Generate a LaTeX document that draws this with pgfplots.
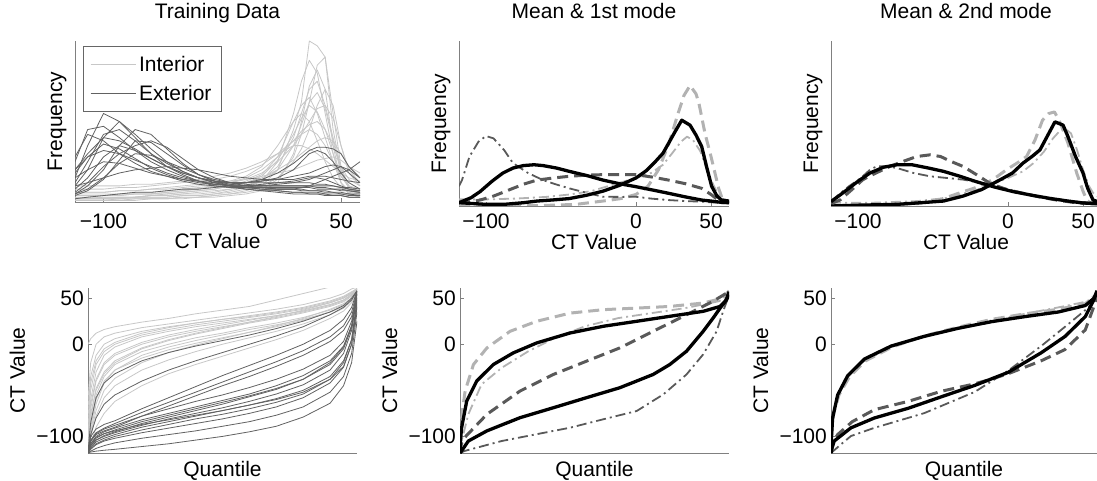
\documentclass[border=0pt]{standalone}
\usepackage{fontspec}
\setmainfont{Liberation Sans}
\usepackage{pgfplots}
\pgfplotsset{compat=1.18}
\newcommand\fs{\fontsize{21}{25}\selectfont}
\tikzset{
  intc/.style={color=black!22, line width=0.8pt},
  extc/.style={color=black!62, line width=0.8pt},
  meanc/.style={color=black, line width=3.3pt},
  idash/.style={color=black!30, line width=3pt, dash pattern=on 11pt off 6pt},
  idd/.style={color=black!30, line width=1.8pt, dash pattern=on 10pt off 4pt on 2pt off 4pt},
  edash/.style={color=black!65, line width=3pt, dash pattern=on 11pt off 6pt},
  edd/.style={color=black!65, line width=1.8pt, dash pattern=on 10pt off 4pt on 2pt off 4pt},
}
\pgfplotsset{
  base/.style={scale only axis, font=\fs, axis x line*=bottom, axis y line*=left,
    axis line style={black!50, line width=0.8pt}, tick style={black!50, line width=0.7pt},
    tick align=inside, major tick length=4pt,
    title style={at={([yshift=16pt]axis description cs:0.5,1)}, anchor=base},
    every axis plot/.append style={line join=round}},
  toprow/.style={base, xmin=-118, xmax=62, ymin=0, ymax=1, ytick=\empty,
    xtick={-100,0,50}, xticklabels={−100,0,50}, xlabel={CT Value}, ylabel={Frequency},
    ylabel style={at={([xshift=-13pt]axis description cs:0,0.5)}, anchor=base},
    xticklabel style={anchor=base, inner sep=0pt, yshift=-22pt},
    xlabel style={at={([yshift=-43pt]axis description cs:0.5,0)}, anchor=base, inner sep=0pt},
    height=165pt, width=270pt},
  botrow/.style={base, xmin=0, xmax=1, ymin=-118, ymax=61, xtick=\empty,
    ytick={-100,0,50}, yticklabels={−100,0,50}, xlabel={Quantile}, ylabel={CT Value},
    yticklabel style={anchor=east, inner sep=0pt, xshift=-4pt},
    ylabel style={at={([xshift=-63pt]axis description cs:0,0.5)}, anchor=base, inner sep=0pt},
    xlabel style={at={([yshift=-23pt]axis description cs:0.5,0)}, anchor=base, inner sep=0pt},
    height=165pt, width=269pt},
}
\begin{document}
\begin{tikzpicture}
\useasboundingbox (0,0) rectangle (1097pt,480pt);
% ---------------- Panel 1: Training data histograms
\begin{axis}[toprow, at={(75pt,278pt)}, anchor=south west, width=285pt, height=161pt,
  title={Training Data},
  xticklabel style={yshift=-4pt}, xlabel style={at={([yshift=-46pt]axis description cs:0.5,0)}},
  legend cell align=left,
  legend image code/.code={\draw[#1] (0pt,0pt) -- (45pt,0pt);},
  legend style={at={([xshift=8pt,yshift=-5pt]axis description cs:0,1)}, anchor=north west,
    draw=black!60, line width=0.6pt, inner xsep=7pt, inner ysep=3pt, row sep=0pt,
    nodes={inner xsep=3pt, inner ysep=6.5pt}, font=\fs}]
\addplot[intc, forget plot] coordinates {(-118,.01)(-110,.01)(-100,.01)(-90,.01)(-80,.02)(-70,.02)(-60,.02)(-50,.03)(-40,.03)(-30,.04)(-20,.05)(-10,.07)(0,.10)(10,.20)(20,.45)(25,.62)(30,1)(35,.97)(40,.90)(45,.45)(50,.20)(55,.08)(62,.05)};
\addplot[intc, forget plot] coordinates {(-118,.02)(-110,.02)(-100,.02)(-90,.02)(-80,.03)(-70,.03)(-60,.03)(-50,.04)(-40,.04)(-30,.05)(-20,.07)(-10,.09)(0,.13)(10,.25)(20,.55)(25,.75)(30,.88)(35,.80)(40,.55)(45,.30)(50,.12)(55,.05)(62,.03)};
\addplot[intc, forget plot] coordinates {(-118,.03)(-110,.03)(-100,.03)(-90,.03)(-80,.03)(-70,.04)(-60,.04)(-50,.05)(-40,.06)(-30,.07)(-20,.08)(-10,.10)(0,.14)(10,.22)(20,.40)(25,.55)(30,.70)(35,.75)(40,.60)(45,.40)(50,.20)(55,.10)(62,.06)};
\addplot[intc, forget plot] coordinates {(-118,.04)(-110,.04)(-100,.04)(-90,.05)(-80,.05)(-70,.05)(-60,.06)(-50,.07)(-40,.08)(-30,.09)(-20,.10)(-10,.13)(0,.17)(10,.28)(20,.50)(25,.60)(30,.65)(35,.55)(40,.40)(45,.25)(50,.12)(55,.07)(62,.05)};
\addplot[intc, forget plot] coordinates {(-118,.05)(-110,.05)(-100,.05)(-90,.05)(-80,.06)(-70,.06)(-60,.07)(-50,.08)(-40,.09)(-30,.10)(-20,.12)(-10,.14)(0,.18)(10,.25)(20,.35)(25,.42)(30,.50)(35,.58)(40,.60)(45,.52)(50,.35)(55,.20)(62,.12)};
\addplot[intc, forget plot] coordinates {(-118,.06)(-110,.06)(-100,.06)(-90,.07)(-80,.07)(-70,.08)(-60,.08)(-50,.09)(-40,.10)(-30,.11)(-20,.13)(-10,.16)(0,.22)(10,.35)(20,.50)(25,.55)(30,.50)(35,.38)(40,.25)(45,.15)(50,.09)(55,.06)(62,.05)};
\addplot[intc, forget plot] coordinates {(-118,.03)(-110,.03)(-100,.04)(-90,.04)(-80,.05)(-70,.05)(-60,.06)(-50,.07)(-40,.08)(-30,.10)(-20,.12)(-10,.15)(0,.20)(10,.28)(20,.38)(25,.44)(30,.48)(35,.50)(40,.45)(45,.35)(50,.22)(55,.14)(62,.10)};
\addplot[intc, forget plot] coordinates {(-118,.08)(-110,.08)(-100,.08)(-90,.09)(-80,.09)(-70,.10)(-60,.11)(-50,.12)(-40,.13)(-30,.14)(-20,.16)(-10,.19)(0,.23)(10,.30)(20,.38)(25,.42)(30,.45)(35,.42)(40,.35)(45,.25)(50,.16)(55,.10)(62,.08)};
\addplot[intc, forget plot] coordinates {(-118,.02)(-110,.02)(-100,.02)(-90,.03)(-80,.03)(-70,.04)(-60,.05)(-50,.06)(-40,.07)(-30,.08)(-20,.10)(-10,.12)(0,.15)(10,.20)(20,.26)(25,.30)(30,.34)(35,.38)(40,.40)(45,.38)(50,.30)(55,.22)(62,.15)};
\addplot[intc, forget plot] coordinates {(-118,.01)(-110,.01)(-100,.01)(-90,.01)(-80,.01)(-70,.02)(-60,.02)(-50,.02)(-40,.03)(-30,.03)(-20,.04)(-10,.05)(0,.07)(10,.12)(20,.30)(25,.50)(30,.72)(35,.82)(40,.70)(45,.35)(50,.12)(55,.05)(62,.03)};
\addplot[intc, forget plot] coordinates {(-118,.10)(-110,.10)(-100,.10)(-90,.10)(-80,.11)(-70,.11)(-60,.12)(-50,.13)(-40,.14)(-30,.16)(-20,.18)(-10,.21)(0,.25)(10,.30)(20,.35)(25,.35)(30,.33)(35,.30)(40,.26)(45,.22)(50,.18)(55,.15)(62,.13)};
\addplot[intc, forget plot] coordinates {(-118,.02)(-110,.02)(-100,.02)(-90,.02)(-80,.03)(-70,.03)(-60,.03)(-50,.04)(-40,.04)(-30,.05)(-20,.06)(-10,.08)(0,.10)(10,.15)(20,.25)(25,.33)(30,.45)(35,.60)(40,.70)(45,.60)(50,.35)(55,.18)(62,.10)};
\addplot[intc, forget plot] coordinates {(-118,.04)(-110,.04)(-100,.04)(-90,.04)(-80,.05)(-70,.05)(-60,.05)(-50,.06)(-40,.07)(-30,.08)(-20,.10)(-10,.12)(0,.16)(10,.26)(20,.42)(25,.52)(30,.60)(35,.56)(40,.45)(45,.30)(50,.16)(55,.09)(62,.06)};
\addplot[intc, forget plot] coordinates {(-118,.06)(-110,.06)(-100,.06)(-90,.07)(-80,.07)(-70,.08)(-60,.09)(-50,.10)(-40,.11)(-30,.12)(-20,.13)(-10,.14)(0,.16)(10,.18)(20,.20)(25,.22)(30,.24)(35,.26)(40,.27)(45,.28)(50,.26)(55,.22)(62,.18)};
\addplot[intc, forget plot] coordinates {(-118,.02)(-110,.02)(-100,.03)(-90,.03)(-80,.03)(-70,.04)(-60,.04)(-50,.05)(-40,.05)(-30,.06)(-20,.08)(-10,.10)(0,.13)(10,.20)(20,.35)(25,.48)(30,.62)(35,.68)(40,.58)(45,.38)(50,.18)(55,.09)(62,.05)};
\addplot[intc, forget plot] coordinates {(-118,.01)(-110,.01)(-100,.01)(-90,.02)(-80,.02)(-70,.02)(-60,.02)(-50,.03)(-40,.03)(-30,.04)(-20,.05)(-10,.06)(0,.08)(10,.14)(20,.28)(25,.42)(30,.62)(35,.85)(40,.90)(45,.55)(50,.22)(55,.09)(62,.05)};
\addplot[extc, forget plot] coordinates {(-118,.15)(-110,.35)(-100,.55)(-90,.50)(-80,.40)(-70,.30)(-60,.22)(-50,.17)(-40,.13)(-30,.10)(-20,.09)(-10,.08)(0,.07)(10,.07)(20,.06)(25,.06)(30,.06)(35,.06)(40,.05)(45,.05)(50,.05)(55,.04)(62,.04)};
\addplot[extc, forget plot] coordinates {(-118,.10)(-110,.20)(-100,.40)(-90,.50)(-80,.42)(-70,.33)(-60,.25)(-50,.19)(-40,.15)(-30,.12)(-20,.10)(-10,.09)(0,.09)(10,.08)(20,.08)(25,.08)(30,.07)(35,.07)(40,.07)(45,.06)(50,.06)(55,.05)(62,.05)};
\addplot[extc, forget plot] coordinates {(-118,.05)(-110,.10)(-100,.20)(-90,.35)(-80,.45)(-70,.42)(-60,.33)(-50,.24)(-40,.17)(-30,.13)(-20,.11)(-10,.10)(0,.10)(10,.10)(20,.10)(25,.10)(30,.10)(35,.09)(40,.09)(45,.08)(50,.08)(55,.07)(62,.06)};
\addplot[extc, forget plot] coordinates {(-118,.28)(-110,.42)(-100,.38)(-90,.30)(-80,.24)(-70,.19)(-60,.16)(-50,.13)(-40,.11)(-30,.10)(-20,.09)(-10,.09)(0,.09)(10,.09)(20,.09)(25,.09)(30,.09)(35,.08)(40,.08)(45,.08)(50,.07)(55,.07)(62,.06)};
\addplot[extc, forget plot] coordinates {(-118,.20)(-110,.30)(-100,.40)(-90,.38)(-80,.33)(-70,.27)(-60,.22)(-50,.18)(-40,.15)(-30,.13)(-20,.12)(-10,.12)(0,.12)(10,.12)(20,.13)(25,.14)(30,.15)(35,.15)(40,.14)(45,.12)(50,.10)(55,.08)(62,.07)};
\addplot[extc, forget plot] coordinates {(-118,.08)(-110,.15)(-100,.28)(-90,.35)(-80,.32)(-70,.27)(-60,.22)(-50,.18)(-40,.15)(-30,.13)(-20,.12)(-10,.12)(0,.13)(10,.15)(20,.20)(25,.25)(30,.30)(35,.32)(40,.30)(45,.25)(50,.18)(55,.12)(62,.08)};
\addplot[extc, forget plot] coordinates {(-118,.05)(-110,.08)(-100,.15)(-90,.24)(-80,.30)(-70,.29)(-60,.25)(-50,.21)(-40,.17)(-30,.14)(-20,.12)(-10,.11)(0,.10)(10,.10)(20,.10)(25,.10)(30,.10)(35,.10)(40,.10)(45,.10)(50,.09)(55,.09)(62,.08)};
\addplot[extc, forget plot] coordinates {(-118,.15)(-110,.20)(-100,.25)(-90,.24)(-80,.21)(-70,.18)(-60,.16)(-50,.14)(-40,.13)(-30,.12)(-20,.12)(-10,.12)(0,.13)(10,.14)(20,.16)(25,.17)(30,.18)(35,.20)(40,.22)(45,.23)(50,.22)(55,.18)(62,.12)};
\addplot[extc, forget plot] coordinates {(-118,.25)(-110,.45)(-100,.47)(-90,.40)(-80,.32)(-70,.25)(-60,.20)(-50,.16)(-40,.13)(-30,.11)(-20,.10)(-10,.09)(0,.08)(10,.07)(20,.06)(25,.06)(30,.05)(35,.05)(40,.05)(45,.04)(50,.04)(55,.03)(62,.03)};
\addplot[extc, forget plot] coordinates {(-118,.04)(-110,.07)(-100,.14)(-90,.26)(-80,.38)(-70,.37)(-60,.30)(-50,.23)(-40,.17)(-30,.13)(-20,.10)(-10,.08)(0,.07)(10,.06)(20,.05)(25,.05)(30,.05)(35,.05)(40,.04)(45,.04)(50,.04)(55,.03)(62,.03)};
\addplot[extc, forget plot] coordinates {(-118,.10)(-110,.12)(-100,.15)(-90,.18)(-80,.20)(-70,.21)(-60,.22)(-50,.21)(-40,.20)(-30,.18)(-20,.16)(-10,.15)(0,.14)(10,.14)(20,.14)(25,.15)(30,.16)(35,.16)(40,.16)(45,.15)(50,.14)(55,.13)(62,.12)};
\addplot[extc, forget plot] coordinates {(-118,.20)(-110,.28)(-100,.32)(-90,.30)(-80,.26)(-70,.22)(-60,.18)(-50,.15)(-40,.13)(-30,.11)(-20,.10)(-10,.10)(0,.10)(10,.11)(20,.12)(25,.13)(30,.14)(35,.16)(40,.18)(45,.20)(50,.22)(55,.20)(62,.15)};
\addplot[extc, forget plot] coordinates {(-118,.02)(-110,.03)(-100,.04)(-90,.05)(-80,.06)(-70,.06)(-60,.07)(-50,.08)(-40,.08)(-30,.09)(-20,.10)(-10,.10)(0,.11)(10,.12)(20,.12)(25,.12)(30,.12)(35,.11)(40,.11)(45,.10)(50,.09)(55,.08)(62,.07)};
\addplot[extc, forget plot] coordinates {(-118,.18)(-110,.28)(-100,.36)(-90,.33)(-80,.27)(-70,.21)(-60,.17)(-50,.14)(-40,.12)(-30,.11)(-20,.11)(-10,.12)(0,.14)(10,.18)(20,.24)(25,.28)(30,.32)(35,.34)(40,.34)(45,.33)(50,.30)(55,.22)(62,.15)};
\addplot[extc, forget plot] coordinates {(-118,.12)(-110,.25)(-100,.42)(-90,.45)(-80,.38)(-70,.30)(-60,.24)(-50,.19)(-40,.15)(-30,.12)(-20,.10)(-10,.09)(0,.08)(10,.08)(20,.08)(25,.09)(30,.10)(35,.12)(40,.14)(45,.16)(50,.18)(55,.20)(62,.25)};
\addplot[extc, forget plot] coordinates {(-118,.06)(-110,.12)(-100,.22)(-90,.30)(-80,.35)(-70,.38)(-60,.34)(-50,.27)(-40,.20)(-30,.15)(-20,.12)(-10,.10)(0,.09)(10,.08)(20,.08)(25,.07)(30,.07)(35,.07)(40,.06)(45,.06)(50,.05)(55,.05)(62,.04)};
\addlegendimage{intc}
\addlegendentry{Interior}
\addlegendimage{extc}
\addlegendentry{Exterior}
\end{axis}
% ---------------- Panel 2: Mean & 1st mode (frequency)
\begin{axis}[toprow, at={(459pt,274pt)}, anchor=south west, title={Mean \& 1st mode}]
\addplot[idash] coordinates {(-118,0)(-80,0)(-55,0.005)(-40,0.01)(-22,0.03)(-10,0.045)(0,0.07)(8,0.12)(15,0.22)(22,0.38)(28,0.56)(32,0.67)(36,0.73)(40,0.68)(42,0.62)(46,0.44)(50,0.3)(55,0.11)(58,0.03)(62,0.02)};
\addplot[idd] coordinates {(-118,0.04)(-100,0.04)(-80,0.045)(-60,0.055)(-44,0.07)(-30,0.09)(-15,0.13)(0,0.17)(10,0.2)(18,0.25)(25,0.33)(30,0.39)(34,0.42)(38,0.4)(43,0.33)(48,0.2)(52,0.12)(56,0.05)(62,0.03)};
\addplot[edd] coordinates {(-118,0.12)(-116,0.157)(-111,0.3)(-105,0.39)(-100,0.424)(-95,0.41)(-88,0.34)(-82,0.26)(-72,0.2)(-62,0.157)(-53,0.13)(-44.5,0.107)(-33,0.08)(-22,0.056)(-10,0.055)(0,0.056)(10,0.045)(21.7,0.036)(33,0.03)(43.8,0.026)(55,0.02)(62,0.02)};
\addplot[edash] coordinates {(-118,0.02)(-110,0.025)(-104,0.036)(-95,0.06)(-88,0.085)(-82,0.107)(-74,0.135)(-66,0.157)(-55,0.17)(-44.5,0.18)(-33,0.187)(-22,0.19)(-11,0.19)(0,0.19)(11,0.175)(21.7,0.157)(33,0.135)(43.8,0.107)(50,0.07)(54.8,0.036)(58,0.02)(62,0.02)};
\addplot[meanc] coordinates {(-118,0.02)(-110,0.05)(-104,0.087)(-96,0.15)(-88.7,0.2)(-82,0.23)(-75,0.245)(-68,0.25)(-62,0.245)(-53,0.23)(-44.5,0.21)(-33,0.185)(-22,0.157)(-11,0.135)(0,0.117)(11,0.097)(21.7,0.077)(33,0.055)(43.8,0.036)(50,0.03)(57,0.022)(62,0.02)};
\addplot[meanc] coordinates {(-118,0.02)(-100,0.01)(-88,0.01)(-75,0.02)(-66,0.03)(-55,0.037)(-44.5,0.045)(-33,0.065)(-22,0.09)(-11,0.125)(0,0.17)(7,0.215)(13,0.27)(18,0.32)(21.7,0.38)(26,0.45)(30.5,0.52)(36,0.49)(40,0.43)(43.8,0.36)(47,0.24)(50.4,0.12)(54,0.06)(57,0.036)(62,0.03)};
\end{axis}
% ---------------- Panel 3: Mean & 2nd mode (frequency)
\begin{axis}[toprow, at={(831pt,274pt)}, anchor=south west, title={Mean \& 2nd mode}]
\addplot[idash] coordinates {(-118,0)(-90,0.005)(-60,0.015)(-45,0.04)(-32,0.08)(-22,0.11)(-14,0.14)(-7,0.18)(-1,0.22)(6,0.26)(12.4,0.3)(18,0.4)(23,0.52)(27,0.56)(31,0.57)(35,0.5)(40,0.38)(45.8,0.2)(50,0.09)(52.5,0.036)(56,0.01)(62,0.01)};
\addplot[idd] coordinates {(-118,0.02)(-90,0.02)(-60,0.03)(-40,0.05)(-20,0.1)(0,0.17)(10,0.21)(17,0.26)(24,0.33)(30,0.41)(34,0.45)(38,0.47)(42,0.44)(46,0.34)(50,0.22)(54,0.12)(56.7,0.08)(62,0.04)};
\addplot[edash] coordinates {(-118,0.015)(-112,0.036)(-104,0.1)(-96.7,0.16)(-88,0.2)(-78.7,0.24)(-70,0.27)(-60.9,0.3)(-52,0.31)(-45,0.3)(-38,0.27)(-30,0.24)(-21,0.19)(-12,0.137)(-1,0.1)(10,0.077)(21,0.055)(32.4,0.036)(45,0.02)(55,0.015)(62,0.01)};
\addplot[edd] coordinates {(-118,0.03)(-114,0.06)(-106,0.12)(-98,0.17)(-92,0.22)(-87.6,0.24)(-80,0.24)(-74,0.23)(-63,0.2)(-52,0.18)(-41,0.17)(-30,0.16)(-18,0.14)(-7.5,0.12)(3,0.095)(14.7,0.067)(25,0.05)(36.7,0.036)(48,0.025)(62,0.02)};
\addplot[meanc] coordinates {(-118,0.026)(-107.5,0.097)(-100,0.15)(-92,0.2)(-83,0.235)(-74,0.25)(-64,0.25)(-53,0.23)(-43,0.21)(-32,0.18)(-21,0.147)(-9,0.115)(3.5,0.087)(16,0.065)(28,0.046)(40,0.03)(50,0.018)(62,0.015)};
\addplot[meanc] coordinates {(-118,0.0)(-100,0.005)(-74,0.01)(-58,0.02)(-43,0.03)(-30,0.06)(-17.5,0.1)(-5,0.16)(3,0.2)(10,0.26)(16,0.3)(21.3,0.34)(26,0.42)(31.3,0.51)(36.7,0.49)(40,0.42)(45,0.3)(50,0.2)(53,0.11)(56.7,0.036)(62,0.02)};
\end{axis}
% ---------------- Panel 4: Training data quantiles
\begin{axis}[botrow, at={(88pt,27pt)}, anchor=south west]
\addplot[intc] coordinates {(0,0)(.01,6)(.03,12)(.06,16)(.1,19)(.2,24)(.3,28)(.4,33)(.5,37)(.6,41)(.7,48)(.8,55)(.9,62)(.95,62)(.98,62)(1,62)};
\addplot[intc] coordinates {(0,-100)(.01,-60)(.03,-30)(.06,-12)(.1,-3)(.2,8)(.3,14)(.4,19)(.5,23)(.6,27)(.7,31)(.8,36)(.9,43)(.95,48)(.98,54)(1,60)};
\addplot[intc] coordinates {(0,-117)(.01,-95)(.03,-65)(.06,-42)(.1,-28)(.2,-12)(.3,-3)(.4,4)(.5,10)(.6,16)(.7,21)(.8,27)(.9,35)(.95,41)(.98,48)(1,57)};
\addplot[intc] coordinates {(0,-90)(.01,-50)(.03,-22)(.06,-8)(.1,0)(.2,10)(.3,16)(.4,21)(.5,25)(.6,29)(.7,33)(.8,38)(.9,45)(.95,50)(.98,55)(1,60)};
\addplot[intc] coordinates {(0,-110)(.01,-85)(.03,-55)(.06,-35)(.1,-22)(.2,-8)(.3,0)(.4,7)(.5,12)(.6,18)(.7,23)(.8,29)(.9,37)(.95,43)(.98,50)(1,58)};
\addplot[intc] coordinates {(0,-70)(.01,-35)(.03,-12)(.06,0)(.1,6)(.2,14)(.3,19)(.4,23)(.5,27)(.6,30)(.7,34)(.8,39)(.9,46)(.95,51)(.98,56)(1,60)};
\addplot[intc] coordinates {(0,-117)(.01,-100)(.03,-78)(.06,-58)(.1,-45)(.2,-28)(.3,-17)(.4,-8)(.5,0)(.6,7)(.7,14)(.8,22)(.9,32)(.95,39)(.98,47)(1,56)};
\addplot[intc] coordinates {(0,-105)(.01,-70)(.03,-40)(.06,-22)(.1,-12)(.2,0)(.3,8)(.4,14)(.5,19)(.6,24)(.7,29)(.8,35)(.9,42)(.95,47)(.98,53)(1,60)};
\addplot[intc] coordinates {(0,-117)(.01,-90)(.03,-60)(.06,-40)(.1,-28)(.2,-15)(.3,-6)(.4,1)(.5,7)(.6,13)(.7,19)(.8,26)(.9,35)(.95,41)(.98,48)(1,58)};
\addplot[intc] coordinates {(0,-80)(.01,-42)(.03,-18)(.06,-5)(.1,2)(.2,12)(.3,18)(.4,23)(.5,27)(.6,31)(.7,35)(.8,40)(.9,47)(.95,52)(.98,57)(1,60)};
\addplot[intc] coordinates {(0,-117)(.01,-108)(.03,-90)(.06,-75)(.1,-62)(.2,-45)(.3,-32)(.4,-22)(.5,-13)(.6,-4)(.7,5)(.8,15)(.9,28)(.95,36)(.98,45)(1,55)};
\addplot[intc] coordinates {(0,-95)(.01,-65)(.03,-38)(.06,-20)(.1,-10)(.2,2)(.3,10)(.4,16)(.5,21)(.6,26)(.7,31)(.8,36)(.9,43)(.95,48)(.98,54)(1,60)};
\addplot[intc] coordinates {(0,-117)(.01,-98)(.03,-72)(.06,-50)(.1,-37)(.2,-20)(.3,-9)(.4,-1)(.5,6)(.6,13)(.7,20)(.8,28)(.9,38)(.95,44)(.98,50)(1,58)};
\addplot[intc] coordinates {(0,-100)(.01,-75)(.03,-50)(.06,-32)(.1,-20)(.2,-5)(.3,4)(.4,11)(.5,17)(.6,23)(.7,28)(.8,34)(.9,41)(.95,46)(.98,52)(1,59)};
\addplot[intc] coordinates {(0,-60)(.01,-20)(.03,0)(.06,8)(.1,12)(.2,18)(.3,22)(.4,26)(.5,30)(.6,34)(.7,38)(.8,43)(.9,50)(.95,55)(.98,60)(1,62)};
\addplot[intc] coordinates {(0,-117)(.01,-80)(.03,-48)(.06,-30)(.1,-18)(.2,-4)(.3,5)(.4,12)(.5,18)(.6,24)(.7,30)(.8,37)(.9,45)(.95,50)(.98,56)(1,61)};
\addplot[extc] coordinates {(0,-118)(.01,-117)(.03,-116)(.06,-115)(.1,-114)(.2,-111)(.3,-108)(.4,-104)(.5,-100)(.6,-95)(.7,-89)(.8,-79)(.9,-64)(.95,-45)(.98,-20)(1,25)};
\addplot[extc] coordinates {(0,-117)(.01,-113)(.03,-108)(.06,-104)(.1,-100)(.2,-93)(.3,-87)(.4,-81)(.5,-76)(.6,-70)(.7,-63)(.8,-54)(.9,-38)(.95,-20)(.98,5)(1,45)};
\addplot[extc] coordinates {(0,-117)(.01,-110)(.03,-104)(.06,-100)(.1,-96)(.2,-88)(.3,-81)(.4,-75)(.5,-69)(.6,-62)(.7,-54)(.8,-44)(.9,-28)(.95,-10)(.98,15)(1,50)};
\addplot[extc] coordinates {(0,-117)(.01,-108)(.03,-100)(.06,-95)(.1,-91)(.2,-82)(.3,-75)(.4,-68)(.5,-61)(.6,-54)(.7,-45)(.8,-34)(.9,-18)(.95,-2)(.98,20)(1,55)};
\addplot[extc] coordinates {(0,-118)(.01,-114)(.03,-109)(.06,-105)(.1,-102)(.2,-96)(.3,-91)(.4,-86)(.5,-81)(.6,-75)(.7,-68)(.8,-58)(.9,-42)(.95,-25)(.98,0)(1,42)};
\addplot[extc] coordinates {(0,-117)(.01,-105)(.03,-97)(.06,-92)(.1,-88)(.2,-78)(.3,-70)(.4,-62)(.5,-55)(.6,-47)(.7,-38)(.8,-27)(.9,-12)(.95,3)(.98,25)(1,58)};
\addplot[extc] coordinates {(0,-117)(.01,-110)(.03,-102)(.06,-97)(.1,-93)(.2,-84)(.3,-77)(.4,-70)(.5,-63)(.6,-56)(.7,-48)(.8,-38)(.9,-22)(.95,-5)(.98,18)(1,52)};
\addplot[extc] coordinates {(0,-117)(.01,-105)(.03,-98)(.06,-94)(.1,-90)(.2,-78)(.3,-67)(.4,-56)(.5,-45)(.6,-35)(.7,-24)(.8,-12)(.9,3)(.95,15)(.98,30)(1,55)};
\addplot[extc] coordinates {(0,-117)(.01,-100)(.03,-92)(.06,-87)(.1,-83)(.2,-70)(.3,-58)(.4,-46)(.5,-34)(.6,-23)(.7,-12)(.8,0)(.9,15)(.95,27)(.98,40)(1,58)};
\addplot[extc] coordinates {(0,-117)(.01,-110)(.03,-104)(.06,-99)(.1,-95)(.2,-86)(.3,-79)(.4,-72)(.5,-65)(.6,-57)(.7,-49)(.8,-38)(.9,-20)(.95,-3)(.98,20)(1,55)};
\addplot[extc] coordinates {(0,-117)(.01,-85)(.03,-58)(.06,-42)(.1,-32)(.2,-18)(.3,-9)(.4,-2)(.5,4)(.6,10)(.7,17)(.8,25)(.9,35)(.95,42)(.98,50)(1,58)};
\addplot[extc] coordinates {(0,-117)(.01,-98)(.03,-80)(.06,-65)(.1,-55)(.2,-40)(.3,-28)(.4,-18)(.5,-9)(.6,0)(.7,9)(.8,19)(.9,32)(.95,40)(.98,48)(1,58)};
\addplot[extc] coordinates {(0,-118)(.01,-116)(.03,-113)(.06,-110)(.1,-107)(.2,-102)(.3,-98)(.4,-94)(.5,-89)(.6,-84)(.7,-77)(.8,-68)(.9,-52)(.95,-35)(.98,-10)(1,35)};
\addplot[extc] coordinates {(0,-117)(.01,-104)(.03,-96)(.06,-91)(.1,-86)(.2,-74)(.3,-63)(.4,-52)(.5,-41)(.6,-30)(.7,-19)(.8,-7)(.9,8)(.95,20)(.98,35)(1,57)};
\addplot[extc] coordinates {(0,-118)(.01,-112)(.03,-106)(.06,-102)(.1,-98)(.2,-90)(.3,-84)(.4,-78)(.5,-72)(.6,-66)(.7,-59)(.8,-50)(.9,-35)(.95,-18)(.98,5)(1,48)};
\addplot[extc] coordinates {(0,-117)(.01,-108)(.03,-101)(.06,-97)(.1,-94)(.2,-87)(.3,-82)(.4,-77)(.5,-72)(.6,-66)(.7,-60)(.8,-52)(.9,-38)(.95,-24)(.98,0)(1,40)};
\end{axis}
% ---------------- Panel 5: Mean & 1st mode (quantiles)
\begin{axis}[botrow, at={(460pt,27pt)}, anchor=south west]
\addplot[idash] coordinates {(0,-118)(0.003,-93)(0.01,-70)(0.019,-50.8)(0.05,-22)(0.1,-4)(0.186,14)(0.285,24.9)(0.41,33.8)(0.533,37.5)(0.657,39.2)(0.78,41)(0.904,44.7)(0.978,50)(1,58)};
\addplot[idd] coordinates {(0,-118)(0.006,-105)(0.031,-76)(0.08,-43.6)(0.155,-25.6)(0.254,-7.6)(0.353,6.8)(0.465,19.5)(0.589,28.4)(0.713,33.8)(0.837,39.2)(0.96,46.5)(1,51)};
\addplot[edash] coordinates {(0,-118)(0.005,-108)(0.018,-101)(0.1,-76)(0.223,-50.8)(0.347,-32.8)(0.47,-18.4)(0.594,-4)(0.718,14)(0.842,32)(0.94,46.5)(1,57)};
\addplot[edd] coordinates {(0,-118)(0.018,-115.7)(0.155,-105)(0.285,-97.6)(0.41,-90.5)(0.533,-81.4)(0.657,-72.4)(0.756,-54.4)(0.842,-32.8)(0.904,-11)(0.954,14)(0.978,35.7)(1,53)};
\addplot[meanc] coordinates {(0,-118)(0.003,-100)(0.006,-90.5)(0.025,-61.6)(0.062,-40)(0.124,-22)(0.198,-9.4)(0.285,1.4)(0.409,12.2)(0.533,19.5)(0.657,24.9)(0.78,30.3)(0.904,35.7)(0.967,41)(0.99,48)(1,57)};
\addplot[meanc] coordinates {(0,-118)(0.006,-115.7)(0.031,-105)(0.1,-94)(0.223,-79.7)(0.347,-68.9)(0.47,-58)(0.594,-47.2)(0.718,-32.8)(0.78,-22)(0.842,-7.6)(0.904,14)(0.94,28)(0.967,39.2)(0.99,48)(1,53.7)};
\end{axis}
% ---------------- Panel 6: Mean & 2nd mode (quantiles)
\begin{axis}[botrow, at={(831pt,27pt)}, anchor=south west, width=266pt]
\addplot[idash] coordinates {(0,-118)(0.003,-95)(0.01,-75)(0.03,-55)(0.07,-35)(0.13,-18)(0.23,-3)(0.35,9)(0.478,18.5)(0.604,27)(0.73,33)(0.855,38)(0.956,44)(0.99,52)(1,58)};
\addplot[idd] coordinates {(0,-118)(0.004,-88)(0.02,-60)(0.06,-37)(0.12,-19)(0.226,-3)(0.35,8)(0.478,17)(0.604,26)(0.73,33)(0.855,40)(0.956,46)(1,52)};
\addplot[edash] coordinates {(0,-118)(0.012,-104)(0.025,-98)(0.08,-84)(0.163,-71)(0.29,-62)(0.415,-51)(0.54,-43)(0.6,-38)(0.666,-32)(0.79,-18)(0.88,-5.7)(0.956,15.6)(0.987,40)(1,52)};
\addplot[edd] coordinates {(0,-118)(0.04,-108)(0.075,-99.6)(0.163,-90.7)(0.35,-74.8)(0.54,-51.8)(0.666,-28.7)(0.79,-2)(0.88,19)(0.956,37)(0.987,46)(1,54)};
\addplot[meanc] coordinates {(0,-118)(0.002,-100)(0.006,-80)(0.025,-55)(0.063,-34)(0.126,-16)(0.226,-2)(0.35,8.5)(0.478,17.3)(0.604,24.5)(0.73,30)(0.855,35)(0.956,42)(0.987,49.5)(1,56)};
\addplot[meanc] coordinates {(0,-118)(0.004,-112)(0.012,-105)(0.075,-90.7)(0.163,-80)(0.29,-69.5)(0.415,-57)(0.54,-44.7)(0.666,-30.5)(0.79,-9.3)(0.88,8.5)(0.956,30)(0.987,47.6)(1,58)};
\end{axis}
\end{tikzpicture}
\end{document}
